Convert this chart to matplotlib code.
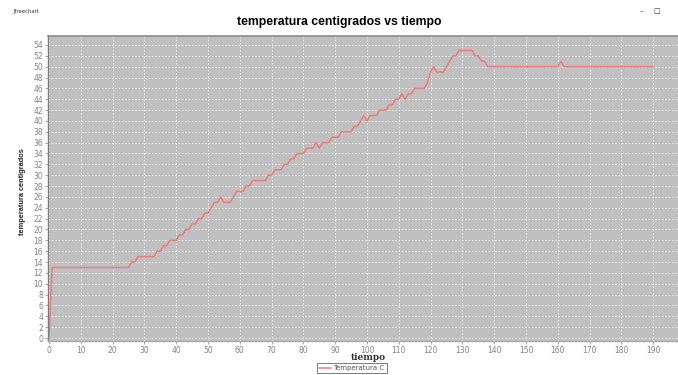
import matplotlib
matplotlib.use("Agg")
import matplotlib.pyplot as plt
from matplotlib.ticker import MultipleLocator

# lecturas de temperatura, una por segundo (t = 0 .. 190)
tiempo = list(range(0, 191))
temperatura = [
    0, 13, 13, 13, 13, 13, 13, 13, 13, 13,
    13, 13, 13, 13, 13, 13, 13, 13, 13, 13,
    13, 13, 13, 13, 13, 13, 14, 14, 15, 15,
    15, 15, 15, 15, 16, 16, 17, 17, 18, 18,
    18, 19, 19, 20, 20, 21, 21, 22, 22, 23,
    23, 24, 25, 25, 26, 25, 25, 25, 26, 27,
    27, 27, 28, 28, 29, 29, 29, 29, 29, 30,
    30, 31, 31, 31, 32, 32, 33, 33, 34, 34,
    34, 35, 35, 35, 36, 35, 36, 36, 36, 37,
    37, 37, 38, 38, 38, 38, 39, 39, 40, 41,
    40, 41, 41, 41, 42, 42, 42, 43, 43, 44,
    44, 45, 44, 45, 45, 46, 46, 46, 46, 47,
    49, 50, 49, 49, 49, 50, 51, 52, 52, 53,
    53, 53, 53, 53, 52, 52, 51, 51, 50, 50,
    50, 50, 50, 50, 50, 50, 50, 50, 50, 50,
    50, 50, 50, 50, 50, 50, 50, 50, 50, 50,
    50, 51, 50, 50, 50, 50, 50, 50, 50, 50,
    50, 50, 50, 50, 50, 50, 50, 50, 50, 50,
    50, 50, 50, 50, 50, 50, 50, 50, 50, 50,
    50,
]
titulo = "temperatura centigrados vs tiempo"
serie = "Temperatura C"

W, H = 678, 375
fig = plt.figure(figsize=(W / 100, H / 100), dpi=100)
fig.patch.set_facecolor("white")

# area del grafico en pixeles: izquierda 48, arriba 36, abajo 341
ax = fig.add_axes([48 / W, 1 - 341 / H, 1 - 48 / W, (341 - 36) / H])
ax.set_facecolor("#c0c0c0")

ax.plot(tiempo, temperatura, color="#f07a7a", lw=1.1, label=serie)

ax.set_xlim(-0.3, 197.8)
ax.set_ylim(-0.55, 55.65)
ax.xaxis.set_major_locator(MultipleLocator(10))
ax.yaxis.set_major_locator(MultipleLocator(2))

ax.grid(True, color="#ececec", linestyle=(0, (2, 2)), linewidth=0.6)
ax.set_axisbelow(True)

for lado in ("top", "right"):
    ax.spines[lado].set_visible(False)
ax.spines["left"].set_color("#7a7a7a")
ax.spines["left"].set_linewidth(1.0)
ax.spines["bottom"].set_color("#a8a8a8")
ax.spines["bottom"].set_linewidth(1.0)
# borde superior del area
ax.axhline(55.65, color="#8a8a8a", lw=1.2, clip_on=False)

ax.tick_params(axis="both", labelsize=5.5, labelcolor="#858585",
               color="#9a9a9a", length=2, width=0.6, pad=1.5)

ax.set_ylabel("temperatura centigrados", fontsize=5.3, fontweight="bold",
              family="Liberation Sans", color="#222222")
ax.yaxis.set_label_coords(-22 / (W - 48), 0.49)

fig.text(368 / W, 1 - 358 / H, "tiempo", ha="center", va="center",
         fontsize=6.5, fontweight="bold", family="DejaVu Serif", color="#333333")
fig.text(339 / W, 1 - 22 / H, titulo, ha="center", va="center",
         fontsize=8.8, fontweight="bold", family="Liberation Sans")

# barra de la ventana
fig.text(13 / W, 1 - 11 / H, "Jfreechart", ha="left", va="center",
         fontsize=3.8, color="#333333")
fig.text(641 / W, 1 - 11 / H, "\u2013", ha="center", va="center",
         fontsize=5, color="#333333")
fig.text(657 / W, 1 - 11 / H, "\u25a1", ha="center", va="center",
         fontsize=5, color="#333333")

leg = ax.legend(loc="center", bbox_to_anchor=(352 / W, 1 - 368 / H),
                bbox_transform=fig.transFigure, fontsize=5,
                frameon=True, fancybox=False, handlelength=1.6,
                handletextpad=0.4, borderpad=0.3, borderaxespad=0)
leg.get_frame().set_edgecolor("#444444")
leg.get_frame().set_linewidth(0.6)
for txt in leg.get_texts():
    txt.set_color("#555555")

fig.savefig("out.png", dpi=100)
